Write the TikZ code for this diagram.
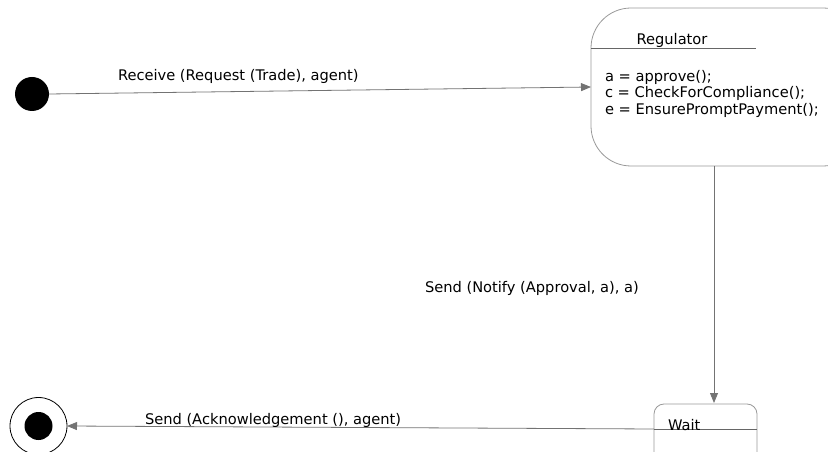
\documentclass[tikz,border=0pt]{standalone}
\usepackage{fontspec}
\setmainfont{DejaVu Sans}
\usetikzlibrary{arrows.meta}
\begin{document}
\begin{tikzpicture}[x=1bp,y=-1bp,
  every node/.style={inner sep=0pt,outer sep=0pt},
  lbl/.style={font=\fontsize{14.7}{17}\selectfont,text=black,anchor=base west},
  statebox/.style={draw=black!40,line width=0.8bp,rectangle},
  flow/.style={draw=black!55,line width=0.8bp,-{Triangle[length=10bp,width=8bp]}},
  divider/.style={draw=black!60,line width=0.8bp}]
\useasboundingbox (0,0) rectangle (828,452);
\clip (0,0) rectangle (828,452);

% initial state
\node[circle,fill=black,minimum size=34bp] (init) at (32,94) {};

% Regulator state
\node[statebox,rounded corners=40bp,minimum width=272bp,minimum height=158bp] (reg) at (727,87) {};
\draw[divider] (591,48) -- (756,48);
\node[lbl,anchor=base] (regname) at (672,45) {Regulator};
\node[lbl] (act1) at (605,81.5) {a = approve();};
\node[lbl] (act2) at (605,98) {c = CheckForCompliance();};
\node[lbl] (act3) at (605,114.5) {e = EnsurePromptPayment();};

% Wait state
\node[statebox,rounded corners=10bp,minimum width=103bp,minimum height=60bp] (wait) at (705.5,434) {};
\draw[divider] (654,429) -- (757,429);
\node[lbl] (waitname) at (668,430.5) {Wait};

% final state
\node[circle,draw=black,line width=0.8bp,minimum size=57bp] (final) at (38.5,426) {};
\node[circle,fill=black,minimum size=28bp] (finaldot) at (38.5,426) {};

% transitions
\coordinate (regout) at (714,166);
\coordinate (waitin) at (714,403);
\coordinate (waitout) at (654,429);
\draw[flow] (init.east) -- (reg.west);
\draw[flow] (regout) -- (waitin);
\draw[flow] (waitout) -- (final.east);

% transition labels
\node[lbl] (l1) at (118,80.5) {Receive (Request (Trade), agent)};
\node[lbl] (l2) at (425,292.5) {Send (Notify (Approval, a), a)};
\node[lbl] (l3) at (145,424.5) {Send (Acknowledgement (), agent)};
\end{tikzpicture}
\end{document}
